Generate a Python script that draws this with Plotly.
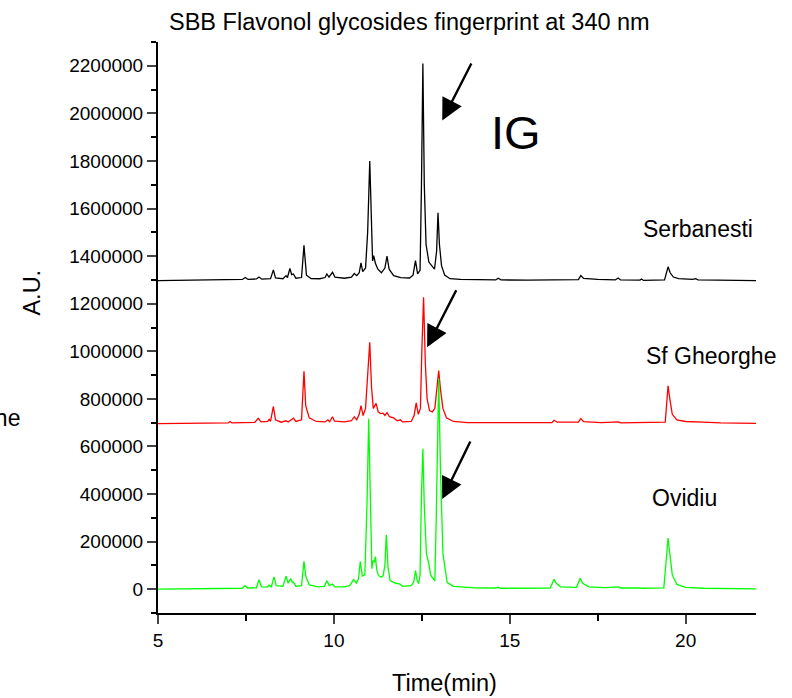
import plotly.graph_objects as go

FONT = "Liberation Sans, Arial, sans-serif"

# ---- Data (time in min, signal in A.U., offsets included as plotted) ----
serbanesti_t = [5.0, 6.0, 6.6, 7.0, 7.4, 7.48, 7.56, 7.8, 7.87, 7.95, 8.2, 8.28, 8.34, 8.55, 8.64, 8.68,
                8.75, 8.8, 8.85, 8.92, 9.08, 9.15, 9.22, 9.35, 9.6, 9.75, 9.8, 9.86, 9.96, 10.03, 10.3,
                10.5, 10.58, 10.65, 10.72, 10.77, 10.82, 10.9, 10.96, 11.02, 11.07, 11.1, 11.13, 11.18,
                11.25, 11.35, 11.45, 11.51, 11.57, 11.7, 11.9, 12.15, 12.25, 12.32, 12.38, 12.45, 12.49,
                12.53, 12.57, 12.62, 12.7, 12.78, 12.86, 12.92, 12.96, 13.0, 13.06, 13.15, 13.3, 13.6,
                14.0, 14.6, 14.67, 14.75, 15.5, 16.3, 16.95, 17.02, 17.1, 17.5, 18.0, 18.08, 18.15, 18.7,
                18.75, 18.8, 19.4, 19.5, 19.56, 19.65, 19.8, 20.2, 20.28, 20.35, 21.0, 22.0]
serbanesti_v = [1297000, 1298000, 1299000, 1299000, 1302000, 1310000, 1302000, 1304000, 1312000, 1303000,
                1305000, 1342000, 1308000, 1305000, 1318000, 1310000, 1348000, 1322000, 1325000, 1307000,
                1310000, 1445000, 1320000, 1306000, 1305000, 1310000, 1325000, 1312000, 1332000, 1312000,
                1307000, 1312000, 1327000, 1318000, 1330000, 1372000, 1335000, 1350000, 1500000, 1800000,
                1450000, 1380000, 1402000, 1370000, 1345000, 1330000, 1350000, 1400000, 1345000, 1318000,
                1310000, 1308000, 1320000, 1381000, 1325000, 1340000, 1700000, 2210000, 1700000, 1450000,
                1375000, 1360000, 1345000, 1420000, 1582000, 1450000, 1360000, 1320000, 1305000, 1302000,
                1300000, 1300000, 1307000, 1300000, 1299000, 1300000, 1301000, 1318000, 1306000, 1302000,
                1300000, 1308000, 1300000, 1299000, 1304000, 1298000, 1300000, 1355000, 1330000, 1312000,
                1305000, 1302000, 1305000, 1300000, 1298000, 1297000]

gheorghe_t = [5.0, 6.5, 7.0, 7.05, 7.1, 7.75, 7.85, 7.93, 8.12, 8.16, 8.2, 8.28, 8.34, 8.5, 8.64, 8.7,
              8.8, 8.85, 8.92, 9.08, 9.15, 9.2, 9.3, 9.5, 9.75, 9.83, 9.88, 9.96, 10.02, 10.3, 10.5,
              10.58, 10.65, 10.72, 10.77, 10.83, 10.9, 10.97, 11.02, 11.07, 11.12, 11.2, 11.26, 11.33,
              11.4, 11.45, 11.51, 11.58, 11.7, 11.8, 11.89, 11.95, 12.2, 12.28, 12.34, 12.4, 12.46, 12.5,
              12.55, 12.6, 12.65, 12.72, 12.8, 12.87, 12.93, 12.98, 13.03, 13.1, 13.2, 13.4, 13.8, 14.6,
              15.8, 16.2, 16.26, 16.35, 16.95, 17.02, 17.1, 17.6, 18.1, 18.15, 19.42, 19.5, 19.55,
              19.62, 19.75, 20.0, 20.5, 21.0, 22.0]
gheorghe_v = [696000, 697000, 699000, 705000, 699000, 701000, 718000, 703000, 705000, 714000, 706000,
              768000, 712000, 702000, 708000, 703000, 712000, 719000, 705000, 712000, 916000, 770000,
              720000, 705000, 703000, 712000, 704000, 725000, 706000, 703000, 708000, 725000, 712000,
              735000, 772000, 730000, 760000, 900000, 1038000, 850000, 760000, 781000, 745000, 738000,
              740000, 730000, 742000, 725000, 720000, 708000, 712000, 703000, 705000, 730000, 783000,
              735000, 760000, 1000000, 1227000, 950000, 800000, 751000, 745000, 760000, 850000, 919000,
              840000, 760000, 720000, 705000, 700000, 699000, 698000, 700000, 710000, 702000, 702000,
              717000, 704000, 700000, 703000, 699000, 702000, 855000, 800000, 735000, 712000, 705000,
              702000, 699000, 697000]

ovidiu_t = [5.0, 6.5, 7.4, 7.47, 7.55, 7.8, 7.87, 7.94, 8.1, 8.16, 8.22, 8.3, 8.36, 8.55, 8.64, 8.7, 8.77,
            8.82, 8.85, 8.92, 9.08, 9.15, 9.2, 9.3, 9.55, 9.73, 9.8, 9.87, 9.96, 10.02, 10.3, 10.45,
            10.56, 10.64, 10.7, 10.75, 10.81, 10.88, 10.94, 10.99, 11.04, 11.08, 11.11, 11.15, 11.18,
            11.22, 11.27, 11.35, 11.4, 11.45, 11.49, 11.54, 11.6, 11.75, 11.87, 11.95, 12.2, 12.27,
            12.32, 12.37, 12.41, 12.45, 12.49, 12.53, 12.57, 12.63, 12.7, 12.75, 12.82, 12.87, 12.91,
            12.98, 13.03, 13.1, 13.22, 13.4, 13.6, 14.0, 14.6, 14.67, 14.75, 15.5, 16.15, 16.26, 16.32,
            16.45, 16.9, 17.0, 17.07, 17.25, 17.7, 18.1, 18.15, 18.7, 18.75, 19.38, 19.5, 19.55, 19.62,
            19.75, 20.0, 20.5, 21.0, 22.0]
ovidiu_v = [0, 1000, 4000, 15000, 5000, 6000, 40000, 10000, 9000, 17000, 10000, 52000, 15000, 12000, 55000,
            25000, 45000, 28000, 30000, 12000, 15000, 117000, 55000, 18000, 10000, 12000, 36000, 15000,
            22000, 10000, 10000, 15000, 40000, 25000, 45000, 116000, 55000, 60000, 350000, 716000, 300000,
            86000, 120000, 115000, 137000, 80000, 57000, 50000, 57000, 100000, 229000, 90000, 36000, 25000,
            22000, 12000, 15000, 30000, 78000, 35000, 23000, 60000, 400000, 590000, 350000, 150000, 106000,
            60000, 45000, 35000, 300000, 885000, 500000, 150000, 28000, 12000, 10000, 6000, 5000, 8000,
            4000, 3000, 5000, 42000, 25000, 10000, 8000, 46000, 25000, 10000, 7000, 10000, 5000, 6000,
            4000, 6000, 215000, 150000, 60000, 20000, 8000, 4000, 2000, 1000]

series_names = ["Serbanesti", "Sf Gheorghe", "Ovidiu"]
series_colors = ["#000000", "#ff0000", "#00ff00"]
series_t = [serbanesti_t, gheorghe_t, ovidiu_t]
series_v = [serbanesti_v, gheorghe_v, ovidiu_v]

y_tick_vals = list(range(0, 2200001, 200000))
x_tick_vals = [5, 10, 15, 20]

# label positions (data coords)
label_pos = {"Serbanesti": (20.35, 1516000), "Sf Gheorghe": (20.72, 982000), "Ovidiu": (19.98, 385000)}
# arrows: (tip_t, tip_v, tail_t, tail_v)
arrows = [(13.08, 1970000, 13.93, 2216000),
          (12.65, 1017000, 13.50, 1263000),
          (13.08, 379000, 13.90, 627000)]

fig = go.Figure()
for name, col, t, v in zip(series_names, series_colors, series_t, series_v):
    fig.add_trace(go.Scatter(x=t, y=v, mode="lines", name=name,
                             line=dict(color=col, width=1.3), showlegend=False))

annotations = []
for name, (lx, ly) in label_pos.items():
    annotations.append(dict(x=lx, y=ly, xref="x", yref="y", text=name, showarrow=False,
                            font=dict(family=FONT, size=23, color="black"),
                            xanchor="center", yanchor="middle"))
for (tx, ty, sx, sy) in arrows:
    annotations.append(dict(x=tx, y=ty, ax=sx, ay=sy, xref="x", yref="y", axref="x", ayref="y",
                            text="", showarrow=True, arrowhead=2, arrowsize=1.8, arrowwidth=2.4,
                            arrowcolor="black", standoff=0, startstandoff=0))
annotations += [
    dict(x=15.19, y=1920000, xref="x", yref="y", text="IG", showarrow=False,
         font=dict(family=FONT, size=47, color="black"), xanchor="center", yanchor="middle"),
    dict(x=0.421, y=1.035, xref="paper", yref="paper", text="SBB Flavonol glycosides fingerprint at 340 nm",
         showarrow=False, font=dict(family=FONT, size=23.5, color="black"), xanchor="center", yanchor="middle"),
    dict(x=0.4786, y=-0.1226, xref="paper", yref="paper", text="Time(min)", showarrow=False,
         font=dict(family=FONT, size=23.5, color="black"), xanchor="center", yanchor="middle"),
    dict(x=-0.2107, y=0.5612, xref="paper", yref="paper", text="A.U.", showarrow=False, textangle=-90,
         font=dict(family=FONT, size=23.5, color="black"), xanchor="center", yanchor="middle"),
    dict(x=-0.2274, y=0.3415, xref="paper", yref="paper", text="Sf Gheorghe", showarrow=False,
         font=dict(family=FONT, size=23, color="black"), xanchor="right", yanchor="middle"),
]

fig.update_layout(
    width=792, height=698,
    margin=dict(l=158, r=36, t=42, b=85, pad=0),
    paper_bgcolor="white", plot_bgcolor="white",
    font=dict(family=FONT, size=19, color="black"),
    annotations=annotations,
    xaxis=dict(range=[5, 22], tickvals=x_tick_vals, ticks="outside", ticklen=9, tickwidth=1.5,
               showline=True, linewidth=2, linecolor="black", showgrid=False, zeroline=False,
               minor=dict(dtick=2.5, tick0=5, ticks="outside", ticklen=6, tickwidth=1.5, tickcolor="black"),
               tickfont=dict(family=FONT, size=19)),
    yaxis=dict(range=[-100000, 2300000], tickvals=y_tick_vals, ticks="outside", ticklen=9, tickwidth=1.5,
               showline=True, linewidth=2, linecolor="black", showgrid=False, zeroline=False,
               minor=dict(dtick=100000, tick0=0, ticks="outside", ticklen=5, tickwidth=1.5, tickcolor="black"),
               tickformat="d", tickfont=dict(family=FONT, size=19)),
)

fig.write_html("out.html")
